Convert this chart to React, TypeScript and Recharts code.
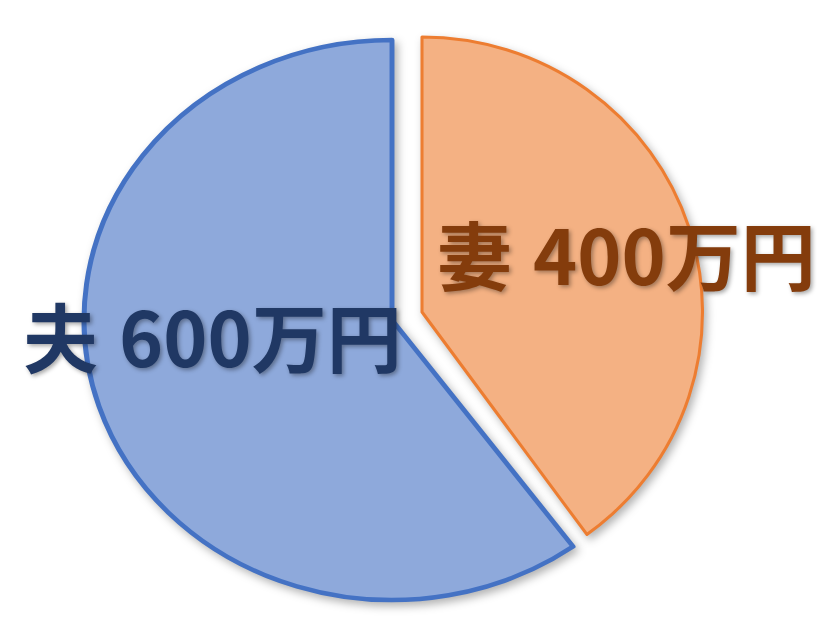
import React from 'react'
import { PieChart, Pie, Cell } from 'recharts'

const NAMES = ['夫', '妻']
const AMOUNTS = [600, 400]
const UNIT = '万円'

const FILLS = ['#8EA9DB', '#F4B183']
const STROKES = ['#4472C4', '#ED7D31']
const TEXT_COLORS = ['#203864', '#843C0C']

const data = NAMES.map((name, i) => ({ name, amount: AMOUNTS[i] }))

// label offsets from each pie's centre
const LABEL_OFFSETS = [
    { dx: -369, dy: 47 },
    { dx: 15, dy: -27 },
]

const makeLabel = (visible: number) => (props: any) => {
    const { cx, cy, index } = props
    if (index !== visible) return null
    const off = LABEL_OFFSETS[index]
    return (
        <text
            x={cx + off.dx}
            y={cy + off.dy}
            fill={TEXT_COLORS[index]}
            fontFamily='"Noto Sans CJK JP", "Noto Sans", sans-serif'
            fontWeight={700}
            fontSize={75}
            style={{ filter: 'drop-shadow(2px 2px 2px rgba(0,0,0,0.35))' }}
        >
            <tspan>{data[index].name}</tspan>
            <tspan dx={21}>{data[index].amount}{UNIT}</tspan>
        </text>
    )
}

const css = `
body { margin: 0; }
.pie-husband .recharts-pie-sector { transform: scaleX(1.1); transform-origin: 392px 320px; filter: drop-shadow(3px 4px 4px rgba(0,0,0,0.3)); }
.pie-wife .recharts-pie-sector { transform: scaleX(1.02); transform-origin: 422px 312px; filter: drop-shadow(3px 4px 4px rgba(0,0,0,0.3)); }
`

const App = () => {
    return (
        <div style={{ width: 827, height: 619, background: '#fff' }}>
            <style>{css}</style>
            <PieChart width={827} height={619} margin={{ top: 0, right: 0, bottom: 0, left: 0 }}>
                <Pie
                    className="pie-husband"
                    data={data}
                    dataKey="amount"
                    nameKey="name"
                    cx={392}
                    cy={320}
                    outerRadius={280}
                    startAngle={90}
                    endAngle={450}
                    label={makeLabel(0)}
                    labelLine={false}
                    isAnimationActive={false}
                >
                    {data.map((_, i) => (
                        <Cell
                            key={`h-${i}`}
                            fill={i === 0 ? FILLS[0] : 'none'}
                            stroke={i === 0 ? STROKES[0] : 'none'}
                            strokeWidth={4.5}
                            strokeLinejoin="round"
                        />
                    ))}
                </Pie>
                <Pie
                    className="pie-wife"
                    data={data}
                    dataKey="amount"
                    nameKey="name"
                    cx={422}
                    cy={312}
                    outerRadius={275}
                    startAngle={90}
                    endAngle={450}
                    label={makeLabel(1)}
                    labelLine={false}
                    isAnimationActive={false}
                >
                    {data.map((_, i) => (
                        <Cell
                            key={`w-${i}`}
                            fill={i === 1 ? FILLS[1] : 'none'}
                            stroke={i === 1 ? STROKES[1] : 'none'}
                            strokeWidth={3}
                            strokeLinejoin="round"
                        />
                    ))}
                </Pie>
            </PieChart>
        </div>
    )
}

export default App
